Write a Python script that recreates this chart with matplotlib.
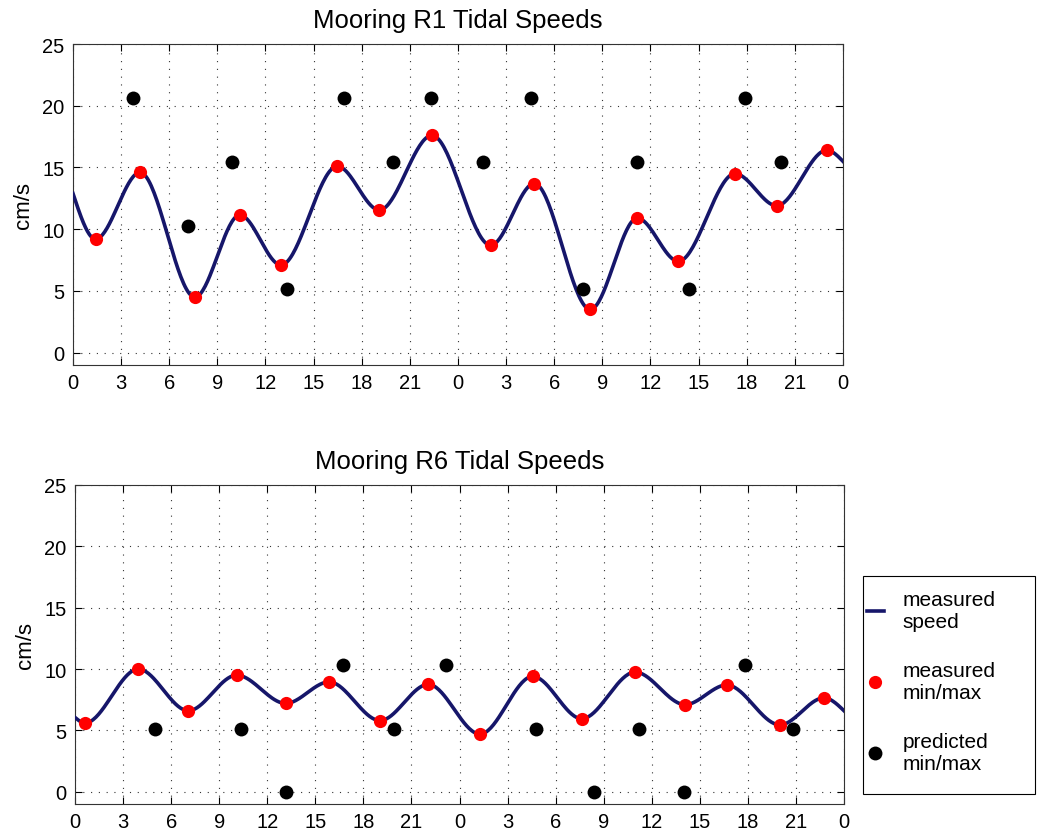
import numpy as np
import matplotlib.pyplot as plt
from matplotlib.patches import Rectangle

plt.rcParams['font.family'] = ['Liberation Sans', 'DejaVu Sans']

# Mooring R1: measured speed (start, turning points, end) in hours / cm/s
r1_t = [0.0, 1.41, 4.18, 7.6, 10.4, 12.97, 16.48, 19.1, 22.38, 26.04, 28.76,
        32.25, 35.18, 37.74, 41.27, 43.87, 46.99, 48.0]
r1_v = [12.9, 9.2, 14.6, 4.5, 11.15, 7.1, 15.1, 11.55, 17.6, 8.7, 13.7,
        3.5, 10.9, 7.4, 14.5, 11.9, 16.4, 15.5]
# Mooring R1: predicted min/max
r1_pt = [3.76, 7.19, 9.93, 13.36, 16.9, 19.93, 22.34, 25.56, 28.53, 31.77,
         35.16, 38.38, 41.91, 44.14]
r1_pv = [20.6, 10.3, 15.45, 5.15, 20.6, 15.45, 20.6, 15.45, 20.6, 5.15,
         15.45, 5.15, 20.6, 15.45]

# Mooring R6: measured speed (start, turning points, end)
r6_t = [0.0, 0.62, 3.95, 7.07, 10.09, 13.15, 15.86, 19.04, 22.05, 25.28,
        28.57, 31.63, 34.96, 38.08, 40.68, 44.0, 46.75, 48.0]
r6_v = [6.05, 5.6, 10.0, 6.6, 9.5, 7.2, 8.95, 5.8, 8.75, 4.7,
        9.4, 5.95, 9.75, 7.1, 8.7, 5.45, 7.65, 6.6]
# Mooring R6: predicted min/max
r6_pt = [5.0, 10.37, 13.15, 16.75, 19.93, 23.18, 28.78, 32.4, 35.19, 38.02,
         41.83, 44.84]
r6_pv = [5.15, 5.15, 0.0, 10.3, 5.15, 10.3, 5.15, 0.0, 5.15, 0.0,
         10.3, 5.15]

hour_ticks = np.arange(0, 49, 3)
hour_labels = [str(h % 24) for h in hour_ticks]
speed_ticks = [0, 5, 10, 15, 20, 25]


def smooth_curve(t, v, n=40):
    # cubic Hermite pieces, flat at the turning points
    t = np.asarray(t, float)
    v = np.asarray(v, float)
    d = np.zeros_like(v)
    d[0] = 1.5 * (v[1] - v[0]) / (t[1] - t[0])
    d[-1] = 1.5 * (v[-1] - v[-2]) / (t[-1] - t[-2])
    xs, ys = [], []
    for i in range(len(t) - 1):
        h = t[i + 1] - t[i]
        s = np.linspace(0, 1, n)
        h00 = 2 * s**3 - 3 * s**2 + 1
        h10 = s**3 - 2 * s**2 + s
        h01 = -2 * s**3 + 3 * s**2
        h11 = s**3 - s**2
        xs.append(t[i] + s * h)
        ys.append(h00 * v[i] + h10 * h * d[i] + h01 * v[i + 1] + h11 * h * d[i + 1])
    return np.concatenate(xs), np.concatenate(ys)


fig = plt.figure(figsize=(10.38, 8.37), dpi=100)
ax1 = fig.add_axes([0.0703, 0.5627, 0.7418, 0.3835])
ax2 = fig.add_axes([0.0723, 0.0382, 0.7408, 0.3812])

navy = '#16166a'
panels = [(ax1, 'Mooring R1 Tidal Speeds', r1_t, r1_v, r1_pt, r1_pv),
          (ax2, 'Mooring R6 Tidal Speeds', r6_t, r6_v, r6_pt, r6_pv)]

for ax, title, t, v, pt, pv in panels:
    cx, cy = smooth_curve(t, v)
    ax.plot(cx, cy, color=navy, lw=2.6, zorder=3, label='measured\nspeed')
    ax.plot(t[1:-1], v[1:-1], 'o', color='red', ms=9.5, mec='none', zorder=4,
            label='measured\nmin/max')
    ax.plot(pt, pv, 'o', color='black', ms=10, mec='none', zorder=5,
            label='predicted\nmin/max')
    ax.set_xlim(0, 48)
    ax.set_ylim(-1, 25)
    ax.set_xticks(hour_ticks)
    ax.set_xticklabels(hour_labels)
    ax.set_yticks(speed_ticks)
    ax.grid(True, linestyle=(0, (1, 6)), color='#333333', lw=0.8)
    ax.tick_params(direction='in', top=True, right=True, labelsize=14.5,
                   length=5, width=0.8, pad=6)
    for sp in ax.spines.values():
        sp.set_linewidth(0.8)
        sp.set_color('#333333')
    ax.set_ylabel('cm/s', fontsize=16, labelpad=6)
    ax.set_title(title, fontsize=18.5, pad=12.5)

# legend box beside the lower panel
W, H = 1038, 837
fig.patches.append(Rectangle((863 / W, 1 - 795 / H), 172 / W, 218 / H,
                             transform=fig.transFigure, fill=False,
                             edgecolor='black', lw=0.8))
handles, labels = ax2.get_legend_handles_labels()
fig.legend(handles, labels, loc='upper left',
           bbox_to_anchor=(867 / W, 1 - 591 / H), borderaxespad=0,
           borderpad=0, fontsize=15, frameon=False, handlelength=0.8,
           handletextpad=0.9, labelspacing=1.45)

fig.savefig('out.png', dpi=100)
